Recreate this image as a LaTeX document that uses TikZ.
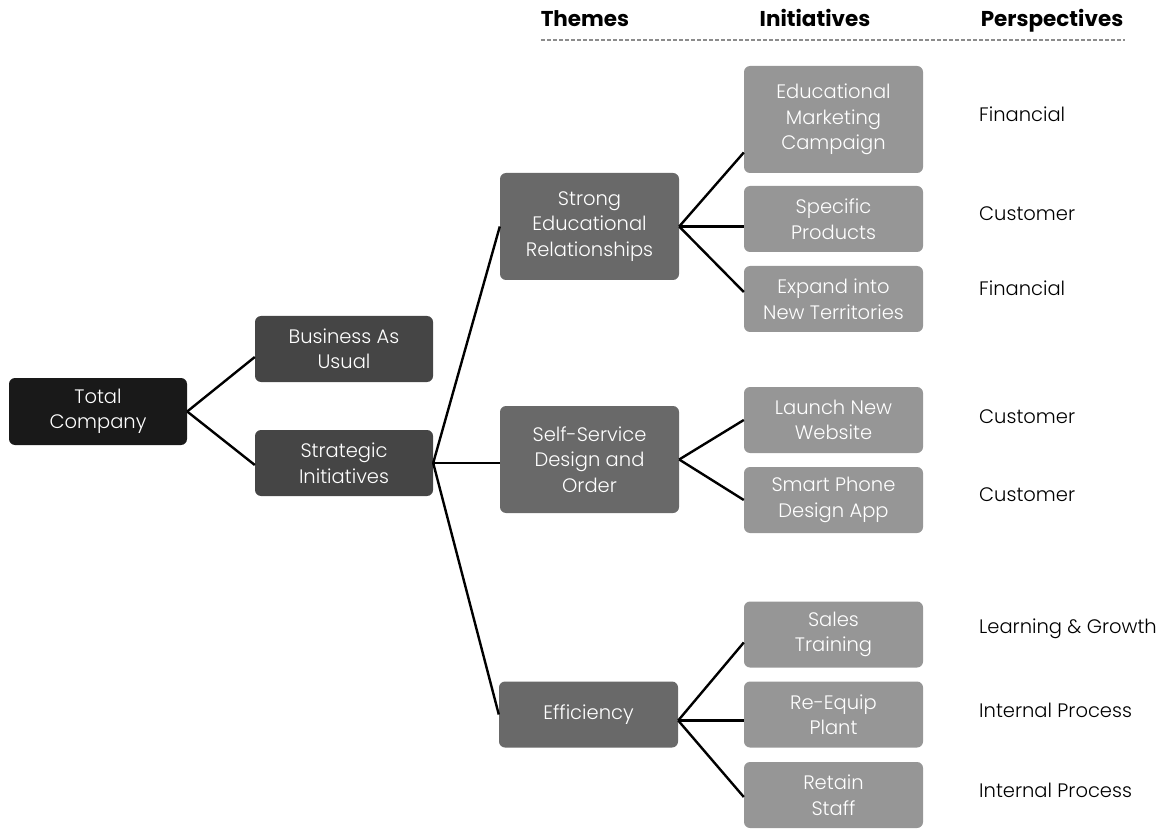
\documentclass[tikz,border=0pt]{standalone}
\usepackage{fontspec}
\usetikzlibrary{calc}
\setmainfont{Poppins}[UprightFont={* Light}, BoldFont={* Bold}]
\begin{document}
\begin{tikzpicture}[x=1pt,y=-1pt,
  box/.style={rounded corners=6pt, text=white, align=center, inner sep=0pt,
    font=\fontsize{19.5}{25.5}\selectfont, minimum width=179pt},
  top/.style={box, fill=black!90},
  mid/.style={box, fill=black!73},
  theme/.style={box, fill=black!59},
  init/.style={box, fill=black!41},
  persp/.style={anchor=west, font=\fontsize{19.5}{25}\selectfont, inner sep=0pt},
  head/.style={anchor=base, font=\bfseries\fontsize{21.5}{24}\selectfont, inner sep=0pt},
  link/.style={line width=2.4pt, black}]
\useasboundingbox (0,0) rectangle (1171,829);

% column headers
\node[head] (hthemes) at (585,27) {Themes};
\node[head] (hinit) at (815,27) {Initiatives};
\node[head] (hpersp) at (1052,27) {Perspectives};
\coordinate (dl) at (541,40);
\coordinate (dr) at (1125,40);
\draw[black!45, line width=1.3pt, dash pattern=on 4pt off 2pt] (dl) -- (dr);

% level 1 and 2
\node[top, minimum width=178pt, minimum height=67pt] (total) at (98,411.5) {Total\\Company};
\node[mid, minimum width=178pt, minimum height=66pt] (bau) at (344,349) {Business As\\Usual};
\node[mid, minimum width=178pt, minimum height=66pt] (strat) at (344,463) {Strategic\\Initiatives};

% themes
\node[theme, minimum height=107pt] (strong) at (589.5,226.5) {Strong\\Educational\\Relationships};
\node[theme, minimum height=107pt] (self) at (589.5,459.5) {Self-Service\\Design and\\Order};
\node[theme, minimum height=66pt] (eff) at (588.5,714.5) {Efficiency};

% initiatives
\node[init, minimum height=107pt] (emc) at (833.5,119.5) {Educational\\Marketing\\Campaign};
\node[init, minimum height=66pt] (spec) at (833.5,219) {Specific\\Products};
\node[init, minimum height=66pt] (expand) at (833.5,299) {Expand into\\New Territories};
\node[init, minimum height=66pt] (launch) at (833.5,420) {Launch New\\Website};
\node[init, minimum height=66pt] (smart) at (833.5,500) {Smart Phone\\Design App};
\node[init, minimum height=66pt] (sales) at (833.5,634.5) {Sales\\Training};
\node[init, minimum height=66pt] (reequip) at (833.5,714.5) {Re-Equip\\Plant};
\node[init, minimum height=66pt] (retain) at (833.5,795) {Retain\\Staff};

% perspectives
\node[persp] (p1) at (979,114) {Financial};
\node[persp] (p2) at (979,214) {Customer};
\node[persp] (p3) at (979,288) {Financial};
\node[persp] (p4) at (979,417) {Customer};
\node[persp] (p5) at (979,495) {Customer};
\node[persp] (p6) at (979,629) {Learning \& Growth};
\node[persp] (p7) at (979,710) {Internal Process};
\node[persp] (p8) at (979,790) {Internal Process};

% connectors
\draw[link] (total.east) -- ($(bau.west)+(0,8)$);
\draw[link] (total.east) -- ($(strat.west)+(0,2)$);
\draw[link] (strat.east) -- (strong.west);
\draw[link] (strat.east) -- (strat.east -| self.west);
\draw[link] (strat.east) -- (eff.west);
\draw[link] (strong.east) -- ($(emc.west)+(0,33)$);
\draw[link] (strong.east) -- (strong.east -| spec.west);
\draw[link] (strong.east) -- ($(expand.west)+(0,-7)$);
\draw[link] (self.east) -- (launch.west);
\draw[link] (self.east) -- (smart.west);
\coordinate (effout) at ($(eff.east)+(0,6)$);
\draw[link] (effout) -- ($(sales.west)+(0,8)$);
\draw[link] (effout) -- (effout -| reequip.west);
\draw[link] (effout) -- ($(retain.west)+(0,2)$);
\end{tikzpicture}
\end{document}
